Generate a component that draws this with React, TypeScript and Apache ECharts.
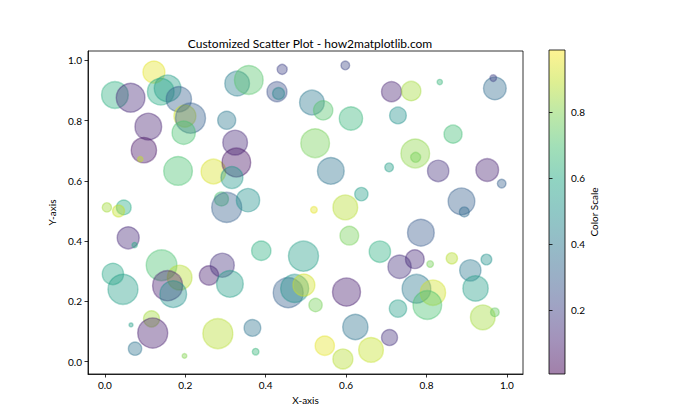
import React, { useEffect, useRef } from "react";
import * as echarts from "echarts";

// Data (x, y in data units; size = matplotlib "s" in pt^2; colour value)
const xValues = [
  0.122, 0.025, 0.064, 0.139, 0.156, 0.184, 0.199, 0.213, 0.196, 0.108,
  0.097, 0.088, 0.182, 0.270, 0.005, 0.047, 0.034, 0.290, 0.303, 0.329,
  0.358, 0.441, 0.428, 0.432, 0.598, 0.515, 0.543, 0.612, 0.303, 0.523,
  0.324, 0.327, 0.316, 0.356, 0.562, 0.638, 0.520, 0.598, 0.713, 0.762,
  0.833, 0.970, 0.966, 0.729, 0.866, 0.772, 0.773, 0.707, 0.829, 0.951,
  0.987, 0.887, 0.894, 0.058, 0.074, 0.020, 0.045, 0.141, 0.186, 0.156,
  0.170, 0.259, 0.292, 0.311, 0.065, 0.116, 0.119, 0.075, 0.198, 0.281,
  0.608, 0.389, 0.494, 0.456, 0.472, 0.495, 0.524, 0.601, 0.367, 0.375,
  0.623, 0.547, 0.592, 0.662, 0.786, 0.684, 0.733, 0.771, 0.809, 0.863,
  0.909, 0.949, 0.922, 0.775, 0.816, 0.802, 0.729, 0.940, 0.970, 0.708,
];
const yValues = [
  0.961, 0.885, 0.876, 0.896, 0.907, 0.871, 0.815, 0.808, 0.760, 0.780,
  0.702, 0.672, 0.633, 0.631, 0.512, 0.512, 0.500, 0.540, 0.512, 0.923,
  0.935, 0.970, 0.896, 0.890, 0.983, 0.860, 0.834, 0.807, 0.801, 0.725,
  0.727, 0.661, 0.611, 0.536, 0.633, 0.556, 0.504, 0.512, 0.896, 0.898,
  0.928, 0.907, 0.941, 0.817, 0.755, 0.691, 0.678, 0.645, 0.633, 0.636,
  0.591, 0.532, 0.497, 0.411, 0.387, 0.291, 0.240, 0.320, 0.279, 0.252,
  0.224, 0.286, 0.320, 0.258, 0.122, 0.142, 0.095, 0.043, 0.019, 0.093,
  0.418, 0.368, 0.350, 0.229, 0.243, 0.254, 0.188, 0.231, 0.112, 0.033,
  0.115, 0.053, 0.009, 0.039, 0.428, 0.365, 0.315, 0.340, 0.324, 0.343,
  0.303, 0.339, 0.243, 0.242, 0.229, 0.188, 0.176, 0.147, 0.164, 0.080,
];
const sizeValues = [
  512, 754, 871, 754, 754, 677, 512, 952, 574, 754,
  677, 30, 871, 645, 92, 229, 152, 207, 952, 645,
  871, 106, 423, 152, 80, 645, 394, 574, 343, 871,
  645, 871, 512, 574, 754, 187, 47, 645, 423, 394,
  30, 545, 47, 295, 343, 871, 106, 80, 480, 545,
  80, 754, 106, 512, 30, 480, 952, 997, 645, 952,
  754, 394, 609, 754, 17, 271, 952, 187, 23, 952,
  370, 394, 952, 952, 829, 512, 187, 829, 295, 47,
  677, 394, 423, 645, 754, 480, 574, 370, 47, 135,
  480, 121, 677, 871, 677, 871, 317, 645, 80, 271,
];
const colorValues = [
  0.95, 0.62, 0.12, 0.60, 0.55, 0.30, 0.92, 0.30, 0.70, 0.10,
  0.05, 0.90, 0.70, 0.93, 0.85, 0.60, 0.90, 0.70, 0.30, 0.42,
  0.72, 0.20, 0.25, 0.45, 0.22, 0.40, 0.72, 0.65, 0.40, 0.78,
  0.12, 0.05, 0.52, 0.50, 0.38, 0.55, 0.95, 0.88, 0.10, 0.85,
  0.65, 0.35, 0.20, 0.50, 0.68, 0.82, 0.78, 0.55, 0.15, 0.10,
  0.30, 0.30, 0.35, 0.12, 0.60, 0.58, 0.55, 0.70, 0.88, 0.08,
  0.50, 0.08, 0.15, 0.55, 0.55, 0.85, 0.08, 0.38, 0.80, 0.88,
  0.78, 0.62, 0.55, 0.30, 0.50, 0.92, 0.78, 0.08, 0.38, 0.65,
  0.38, 0.95, 0.88, 0.90, 0.28, 0.62, 0.15, 0.12, 0.78, 0.88,
  0.40, 0.50, 0.55, 0.40, 0.92, 0.70, 0.55, 0.85, 0.75, 0.15,
];
const xTicks = [0, 0.2, 0.4, 0.6, 0.8, 1.0];
const yTicks = [0, 0.2, 0.4, 0.6, 0.8, 1.0];
const colorTicks = [0.2, 0.4, 0.6, 0.8];
const colorMin = 0.005;
const colorMax = 0.99;

const VIRIDIS = [
  "#440154", "#482475", "#414487", "#355f8d", "#2a788e", "#21918c",
  "#22a884", "#44bf70", "#7ad151", "#bddf26", "#fde725",
];

function hexToRgb(h: string) {
  return [parseInt(h.slice(1, 3), 16), parseInt(h.slice(3, 5), 16), parseInt(h.slice(5, 7), 16)];
}
function viridis(t: number, alpha: number) {
  const tt = Math.max(0, Math.min(1, t)) * (VIRIDIS.length - 1);
  const i = Math.min(VIRIDIS.length - 2, Math.floor(tt));
  const f = tt - i;
  const a = hexToRgb(VIRIDIS[i]);
  const b = hexToRgb(VIRIDIS[i + 1]);
  const c = a.map((v, k) => Math.round(v + (b[k] - v) * f));
  return `rgba(${c[0]},${c[1]},${c[2]},${alpha})`;
}

const FONT = "Lato";

export default function App() {
  const ref = useRef<HTMLDivElement>(null);
  useEffect(() => {
    if (!ref.current) return;
    const chart = echarts.init(ref.current, undefined, { renderer: "svg" });
    const norm = (c: number) => (c - colorMin) / (colorMax - colorMin);
    const data = xValues.map((x, i) => {
      const col = viridis(norm(colorValues[i]), 0.5);
      return {
        value: [x, yValues[i]],
        symbolSize: (Math.sqrt(sizeValues[i]) * 70) / 72,
        itemStyle: { color: col, borderColor: col, borderWidth: 1.4 },
      };
    });
    // gradient from top (yellow, offset 0) to bottom (purple, offset 1), offsets ascending
    const n = VIRIDIS.length - 1;
    const cbStops = VIRIDIS.map((_, i) => ({
      offset: i / n,
      color: viridis(1 - i / n, 0.5),
    }));
    const axisCommon = {
      axisLine: { show: true, onZero: false, lineStyle: { color: "#000", width: 0.8 } },
      axisTick: { show: true, length: 3.5, lineStyle: { color: "#000", width: 0.8 } },
      splitLine: { show: false },
      nameTextStyle: { fontFamily: FONT, fontSize: 10, color: "#000" },
    };
    chart.setOption({
      animation: false,
      backgroundColor: "#fff",
      title: {
        text: "Customized Scatter Plot - how2matplotlib.com",
        left: 305,
        top: 32,
        textAlign: "center",
        textStyle: { fontFamily: FONT, fontSize: 12, fontWeight: "normal", color: "#000" },
      },
      grid: [
        { left: 88, top: 51, width: 435, height: 323, show: true, borderColor: "#000", borderWidth: 0.8, backgroundColor: "transparent" },
        { left: 549, top: 50, width: 16, height: 324, show: false },
      ],
      xAxis: [
        {
          ...axisCommon,
          gridIndex: 0,
          type: "value",
          min: -0.042,
          max: 1.04,
          name: "X-axis",
          nameLocation: "middle",
          nameGap: 20,
          axisTick: { ...axisCommon.axisTick, customValues: xTicks },
          axisLabel: {
            customValues: xTicks,
            formatter: (v: number) => v.toFixed(1),
            fontFamily: FONT,
            fontSize: 10,
            color: "#000",
            margin: 6,
          },
        },
        { gridIndex: 1, type: "value", show: false, min: 0, max: 1 },
      ],
      yAxis: [
        {
          ...axisCommon,
          gridIndex: 0,
          type: "value",
          min: -0.041,
          max: 1.031,
          name: "Y-axis",
          nameLocation: "middle",
          nameGap: 30,
          nameRotate: 90,
          axisTick: { ...axisCommon.axisTick, customValues: yTicks },
          axisLabel: {
            customValues: yTicks,
            formatter: (v: number) => v.toFixed(1),
            fontFamily: FONT,
            fontSize: 10,
            color: "#000",
            margin: 6,
          },
        },
        {
          ...axisCommon,
          gridIndex: 1,
          type: "value",
          position: "right",
          min: colorMin,
          max: colorMax,
          name: "Color Scale",
          nameLocation: "middle",
          nameGap: 22,
          nameRotate: 90,
          axisLine: { show: false },
          axisTick: { ...axisCommon.axisTick, customValues: colorTicks },
          axisLabel: {
            customValues: colorTicks,
            formatter: (v: number) => v.toFixed(1),
            fontFamily: FONT,
            fontSize: 10,
            color: "#000",
            margin: 6,
          },
        },
      ],
      graphic: [
        {
          type: "rect",
          z: 0,
          shape: { x: 549, y: 50, width: 16, height: 324 },
          style: {
            fill: new echarts.graphic.LinearGradient(0, 0, 0, 1, cbStops),
            stroke: "#000",
            lineWidth: 0.8,
          },
        },
      ],
      series: [
        {
          type: "scatter",
          xAxisIndex: 0,
          yAxisIndex: 0,
          symbol: "circle",
          data,
          emphasis: { disabled: true },
        },
      ],
    });
    return () => chart.dispose();
  }, []);
  return (
    <div
      ref={ref}
      style={{ position: "fixed", left: 0, top: 0, width: 700, height: 420, background: "#fff" }}
    />
  );
}
